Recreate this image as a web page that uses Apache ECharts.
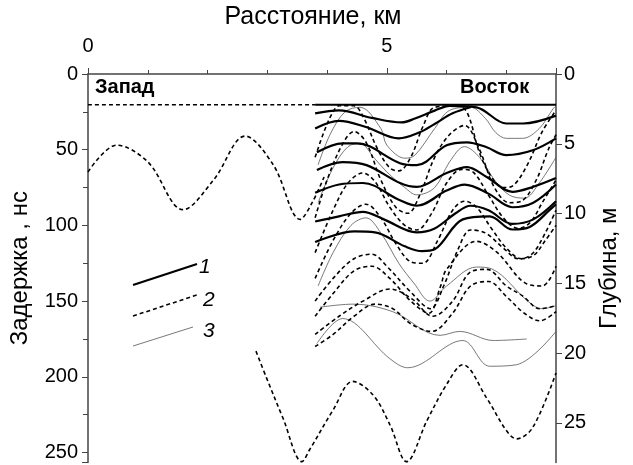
<!DOCTYPE html>
<html>
<head>
<meta charset="utf-8">
<script src="https://cdn.jsdelivr.net/npm/echarts@6/dist/echarts.min.js"></script>
<style>
  html, body { margin: 0; padding: 0; background: #fff; }
  #main { width: 633px; height: 465px; }
</style>
</head>
<body>
<div id="main"></div>
<script>
'use strict'
// profile: delay (ns) vs distance (km), depth on the right

var FONT = 'Liberation Sans';
var X_MAX = 7.83;      // km at right frame
var T_MAX = 256.5;     // ns at bottom edge
var H_MAX = 27.84;     // m at bottom edge

// reflector at the top (ns)
var topDashed = [[0, 20.3], [3.8, 20.3]];
var topSolid = [[3.8, 20.3], [X_MAX, 20.3]];

// 1 - bold solid lines [km, ns]
var bold1 = [[3.8,26],[4.2,24],[4.75,29],[5.25,32],[5.47,29.4],[5.8,24.2],[6.05,21],[6.5,22],[7.0,32.7],[7.28,32.7],[7.83,27.5]];
var bold2 = [[3.8,36],[4.2,31],[4.65,35],[5.2,42.5],[5.55,38.5],[5.8,33],[6.1,26],[6.4,22]];
var bold3 = [[3.83,51.7],[4.26,45.8],[4.5,45.8],[5.22,58.9],[5.5,60.2],[6.0,47.1],[6.34,45.1],[6.67,48.4],[7.0,53.6],[7.44,50.4],[7.83,42.5]];
var bold4 = [[3.83,63.4],[4.26,58.2],[4.66,60.2],[5.22,72],[5.5,74.6],[6.0,65.4],[6.34,61.5],[6.67,68],[7.1,77.8],[7.44,74.6],[7.83,68.7]];
var bold5 = [[3.8,78.5],[4.2,73],[4.6,72],[5.2,83],[5.5,87],[6.0,77],[6.3,73],[6.7,79],[7.1,88],[7.45,85],[7.83,73]];
var bold6 = [[3.8,97.4],[4.2,94],[4.6,91],[4.95,96],[5.5,104.6],[5.8,102],[6.15,92],[6.4,87],[6.7,90],[7.1,99],[7.45,96],[7.83,84]];
var bold7 = [[3.8,111],[4.46,104],[4.8,104.6],[5.3,113.8],[5.59,117],[5.8,115.8],[6.27,96],[6.72,94],[7.1,102.7],[7.39,101],[7.73,89.6],[7.83,86]];

// 2 - dashed lines [km, ns]
var dashW = [[0,64.7],[0.48,47],[1.0,58],[1.59,89.6],[2.1,70],[2.63,41],[3.1,60],[3.55,96],[3.75,85],[3.95,68]];
var dashDeep = [[2.81,183],[2.99,201],[3.26,227],[3.58,256],[3.71,248],[4.1,222],[4.43,203],[4.77,212],[5.05,231.5],[5.33,256],[5.67,229],[6.0,205],[6.27,192],[6.67,214],[7.0,235.5],[7.17,241],[7.44,233.5],[7.83,197.5]];
var dash1 = [[3.8,55],[3.95,38],[4.1,25],[4.2,21],[4.45,21],[4.6,28],[4.85,50],[5.05,62],[5.2,64],[5.4,55],[5.6,35],[5.8,22],[6.2,21],[6.35,26],[6.55,52],[6.75,68],[6.95,75],[7.1,74],[7.35,60],[7.6,38],[7.83,24]];
var dash2 = [[3.8,95],[4.0,70],[4.25,47],[4.45,38],[4.65,45],[4.9,70],[5.15,88],[5.35,92],[5.55,80],[5.8,55],[6.05,40],[6.3,34],[6.55,50],[6.8,75],[7.05,85],[7.25,84],[7.5,70],[7.7,50],[7.83,40]];
var dash3 = [[3.8,118],[4.1,90],[4.35,72],[4.6,65.4],[4.8,71],[5.05,88],[5.3,100],[5.5,103],[5.75,92],[6.0,72],[6.25,63],[6.45,65],[6.7,80],[6.95,95],[7.2,102],[7.4,98],[7.6,85],[7.83,70]];
var dash4 = [[3.8,135],[4.1,110],[4.4,92],[4.65,86],[4.9,95],[5.15,112],[5.4,124],[5.6,125],[5.85,110],[6.1,90],[6.3,84],[6.5,88],[6.75,102],[7.0,115],[7.25,122],[7.45,118],[7.65,105],[7.83,90]];
var dash5 = [[3.8,150],[4.1,135],[4.45,122],[4.75,119],[5.0,127],[5.4,144],[5.73,155],[5.95,140],[6.2,115],[6.4,103],[6.65,105],[6.95,115],[7.2,122],[7.45,120],[7.65,110],[7.83,100]];
var dash6 = [[3.8,160],[4.1,145],[4.45,130],[4.75,127],[5.05,135],[5.4,150],[5.7,158],[5.9,140],[6.0,129],[6.5,110.5],[6.84,117.7],[7.34,138.6],[7.6,140],[7.83,127]];
var dash7 = [[3.8,172],[4.2,160],[4.6,150],[5.05,142],[5.42,148.5],[5.77,160],[6.1,150],[6.39,131],[6.67,129],[7.0,140],[7.27,146.5],[7.56,155],[7.83,153]];
var dash8 = [[3.8,180],[4.1,172],[4.45,160],[4.8,152],[5.1,155],[5.4,165],[5.75,170],[6.1,158],[6.4,140],[6.7,137],[7.0,147],[7.3,158],[7.56,163],[7.83,157]];

// 3 - thin grey lines [km, ns]
var thin1 = [[3.85,60],[4.05,40],[4.3,25],[4.55,22],[4.9,36],[5.0,47],[5.3,55.6],[5.47,53.6],[5.8,36],[6.05,24],[6.4,22],[6.65,29.4],[6.82,38.6],[7.0,42.5],[7.27,42.5],[7.55,36],[7.78,23],[7.83,21]];
var thin2 = [[3.85,85],[4.1,62],[4.35,48],[4.55,46],[4.8,56],[5.0,64.7],[5.3,75],[5.5,79.8],[5.8,75],[6.05,58],[6.3,48],[6.55,55],[6.8,70],[7.05,80],[7.3,82],[7.55,72],[7.83,55]];
var thin3 = [[3.85,140],[4.1,118],[4.4,100],[4.65,95],[4.9,105],[5.2,125],[5.45,138],[5.72,150],[6.0,140],[6.5,127.5],[6.76,128.8],[7.37,150.4],[7.6,155],[7.83,153]];
var thin4 = [[3.88,154],[4.43,152],[5.1,157],[5.89,172.6],[6.22,170],[6.78,176],[7.34,175]];
var thin5 = [[3.83,178],[4.26,161.5],[5.05,188],[5.35,194],[6.27,176],[6.72,193],[7.17,192],[7.83,170]];

var BOLD = { color: '#000', width: 2.2, type: 'solid' };
var DASH = { color: '#000', width: 1.6, type: [4, 3] };
var THIN = { color: '#555', width: 0.8, type: 'solid' };

function line(data, style) {
    return {
        type: 'line',
        data: data,
        smooth: 0.35,
        showSymbol: false,
        silent: true,
        lineStyle: style,
        z: style === BOLD ? 4 : (style === DASH ? 3 : 2)
    };
}

var series = [
    line(topDashed, DASH), line(topSolid, { color: '#000', width: 1.8 }),
    line(thin1, THIN), line(thin2, THIN), line(thin3, THIN), line(thin4, THIN), line(thin5, THIN),
    line(dashW, DASH), line(dashDeep, DASH),
    line(dash1, DASH), line(dash2, DASH), line(dash3, DASH), line(dash4, DASH),
    line(dash5, DASH), line(dash6, DASH), line(dash7, DASH), line(dash8, DASH),
    line(bold1, BOLD), line(bold2, BOLD), line(bold3, BOLD), line(bold4, BOLD),
    line(bold5, BOLD), line(bold6, BOLD), line(bold7, BOLD)
];

var axisLine = { show: true, lineStyle: { color: '#444', width: 1.5 } };
var labelStyle = { color: '#000', fontFamily: FONT, fontSize: 20 };

var option = {
    animation: false,
    backgroundColor: '#fff',
    grid: { left: 88, right: 77, top: 73, bottom: 0 },
    xAxis: {
        type: 'value',
        position: 'top',
        min: 0, max: X_MAX, interval: 5,
        name: 'Расстояние, км',
        nameLocation: 'middle',
        nameGap: 44,
        nameTextStyle: { color: '#000', fontFamily: FONT, fontSize: 25, padding: [0, 18, 0, 0] },
        axisLine: axisLine,
        axisTick: { show: true, length: 6, lineStyle: { color: '#444' } },
        minorTick: { show: true, splitNumber: 5, length: 4, lineStyle: { color: '#444' } },
        axisLabel: Object.assign({ margin: 18, showMaxLabel: false }, labelStyle),
        splitLine: { show: false }
    },
    yAxis: [
        {
            type: 'value',
            position: 'left',
            inverse: true,
            min: 0, max: T_MAX, interval: 50,
            name: 'Задержка , нс',
            nameLocation: 'middle',
            nameGap: 56,
            nameTextStyle: { color: '#000', fontFamily: FONT, fontSize: 24 },
            axisLine: axisLine,
            axisTick: { show: true, length: 6, lineStyle: { color: '#444' } },
            minorTick: { show: true, splitNumber: 2, length: 5, lineStyle: { color: '#444' } },
            axisLabel: Object.assign({ margin: 10, showMaxLabel: false }, labelStyle),
            splitLine: { show: false }
        },
        {
            type: 'value',
            position: 'right',
            inverse: true,
            min: 0, max: H_MAX, interval: 5,
            name: 'Глубина, м',
            nameLocation: 'middle',
            nameGap: 38,
            nameTextStyle: { color: '#000', fontFamily: FONT, fontSize: 24 },
            axisLine: axisLine,
            axisTick: { show: true, length: 6, lineStyle: { color: '#444' } },
            axisLabel: Object.assign({ margin: 8, showMaxLabel: false }, labelStyle),
            splitLine: { show: false }
        }
    ],
    graphic: [
        { type: 'text', left: 95, top: 77, style: { text: 'Запад', font: 'bold 20px "Liberation Sans"', fill: '#000' } },
        { type: 'text', left: 460, top: 77, style: { text: 'Восток', font: 'bold 20px "Liberation Sans"', fill: '#000' } },
        { type: 'line', shape: { x1: 133, y1: 285, x2: 197, y2: 264 }, style: { stroke: '#000', lineWidth: 2.2 } },
        { type: 'text', left: 199, top: 257, style: { text: '1', font: 'italic 21px "Liberation Sans"', fill: '#000' } },
        { type: 'line', shape: { x1: 133, y1: 316, x2: 197, y2: 295 }, style: { stroke: '#000', lineWidth: 1.6, lineDash: [4, 3] } },
        { type: 'text', left: 203, top: 290, style: { text: '2', font: 'italic 21px "Liberation Sans"', fill: '#000' } },
        { type: 'line', shape: { x1: 133, y1: 346, x2: 193, y2: 327 }, style: { stroke: '#555', lineWidth: 0.8 } },
        { type: 'text', left: 203, top: 321, style: { text: '3', font: 'italic 21px "Liberation Sans"', fill: '#000' } }
    ],
    series: series
};

var myChart = echarts.init(document.getElementById('main'));
myChart.setOption(option);
</script>
</body>
</html>
